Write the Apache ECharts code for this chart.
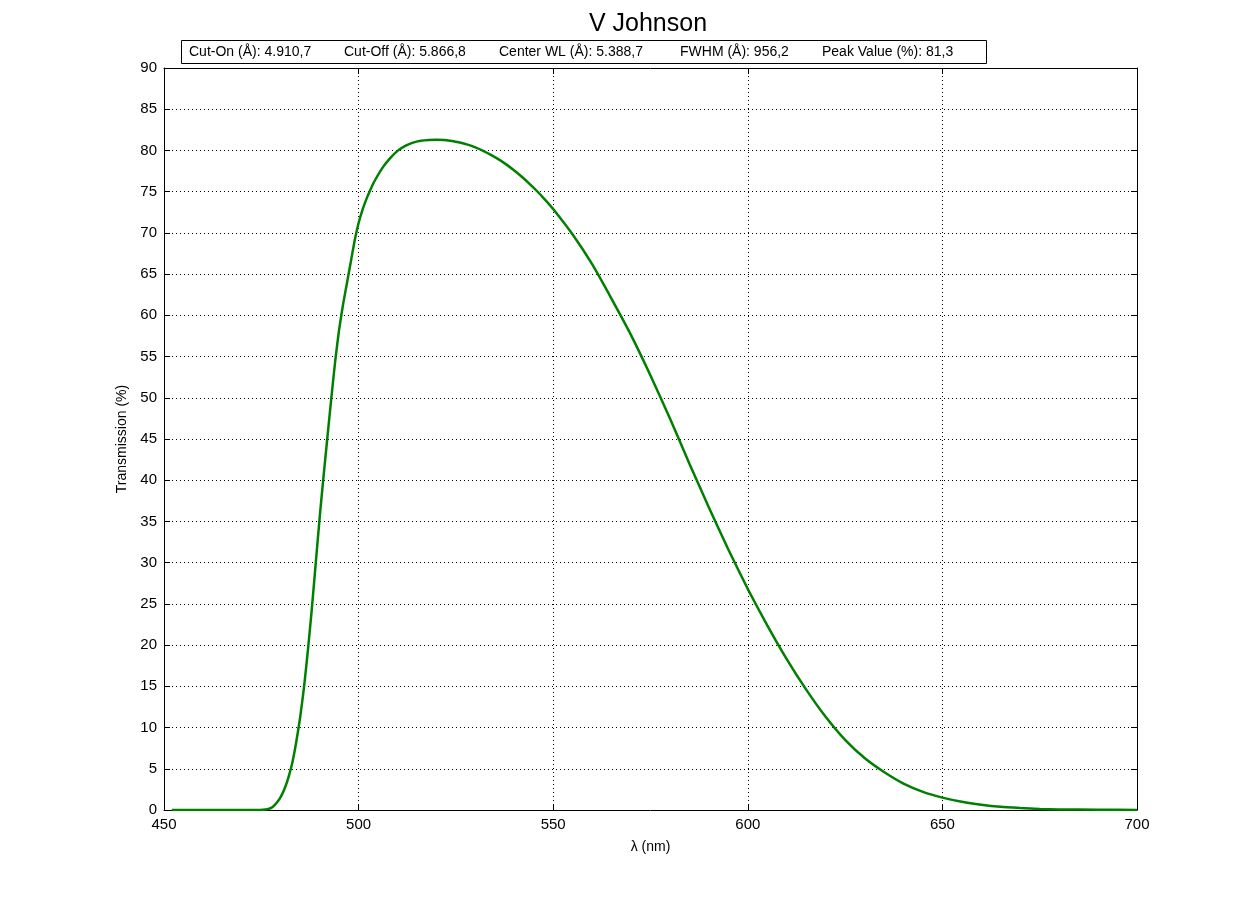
<!DOCTYPE html>
<html>
<head>
<meta charset="utf-8">
<script src="https://cdn.jsdelivr.net/npm/echarts@6/dist/echarts.min.js"></script>
<style>html,body{margin:0;padding:0;background:#fff}#c{width:1258px;height:911px}</style>
</head>
<body>
<div id="c"></div>
<script>
const wavelengths = [452,460,470,475,476,477,478,479,480,481,482,483,484,485,486,487,488,489,490,491,492,493,494,495,496,497,498,499,500,501,502,503,504,506,508,510,512,514,516,518,520,522,524,526,528,530,532,534,536,538,540,542,544,546,548,550,555,560,565,570,575,580,585,590,595,600,605,610,615,620,625,630,635,640,645,650,655,660,665,670,675,680,690,700];
const transmission = [0,0,0,0.02,0.05,0.15,0.4,0.9,1.6,2.6,4.0,5.8,8.3,11.3,15.0,19.5,24.5,30.0,35.5,40.5,45.3,50.0,54.5,58.3,61.3,63.9,66.5,69.1,71.2,72.8,74.1,75.2,76.2,77.8,79.0,79.95,80.55,80.95,81.17,81.28,81.3,81.26,81.15,80.96,80.7,80.37,79.96,79.47,78.91,78.28,77.57,76.78,75.92,74.99,73.98,72.9,69.8,66.2,62.0,57.6,52.7,47.5,42.0,36.7,31.6,26.8,22.4,18.3,14.6,11.3,8.5,6.3,4.6,3.2,2.2,1.5,1.0,0.65,0.4,0.25,0.12,0.07,0.03,0.01];
const infoLabels = ["Cut-On (Å): 4.910,7","Cut-Off (Å): 5.866,8","Center WL (Å): 5.388,7","FWHM (Å): 956,2","Peak Value (%): 81,3"];
const infoX = [189,344,499,680,822];

const chart = echarts.init(document.getElementById('c'));
const font = 'Liberation Sans, Arial, sans-serif';
const gridLine = {show:true,lineStyle:{color:'#000',type:[1,3],width:1}};
const axisLine = {show:true,onZero:false,lineStyle:{color:'#000',width:1}};
const tick = {show:true,inside:true,length:6,lineStyle:{color:'#000'}};
chart.setOption({
  animation:false,
  backgroundColor:'#fff',
  title:{text:'V Johnson',left:643,textAlign:'center',top:7,textStyle:{fontFamily:font,fontSize:25,fontWeight:'normal',color:'#000'}},
  grid:{left:164,right:121,top:68,bottom:101,show:false},
  xAxis:[
    {type:'value',min:450,max:700,interval:50,name:'λ (nm)',nameLocation:'middle',nameGap:30,
     nameTextStyle:{fontFamily:font,fontSize:14,color:'#000'},
     axisLine:axisLine,axisTick:tick,axisLabel:{fontFamily:font,fontSize:15,color:'#000',margin:7},splitLine:gridLine},
    {type:'value',position:'top',min:450,max:700,interval:50,axisLine:axisLine,axisTick:tick,axisLabel:{show:false},splitLine:{show:false}}
  ],
  yAxis:[
    {type:'value',min:0,max:90,interval:5,name:'Transmission (%)',nameLocation:'middle',nameGap:32,
     nameTextStyle:{fontFamily:font,fontSize:14,color:'#000'},
     axisLine:axisLine,axisTick:tick,axisLabel:{fontFamily:font,fontSize:15,color:'#000',margin:7},splitLine:gridLine},
    {type:'value',position:'right',min:0,max:90,interval:5,axisLine:axisLine,axisTick:tick,axisLabel:{show:false},splitLine:{show:false}}
  ],
  series:[{
    type:'line',
    data:wavelengths.map((w,i)=>[w,transmission[i]]),
    smooth:0.15,
    showSymbol:false,
    lineStyle:{color:'#008000',width:2.5},
    z:5
  }],
  graphic:[
    {type:'rect',shape:{x:181.5,y:40.5,width:805,height:23},style:{fill:'#fff',stroke:'#000',lineWidth:1},z:10}
  ].concat(infoLabels.map((t,i)=>({type:'text',x:infoX[i],y:52,z:11,
    style:{text:t,font:'14px '+font,fill:'#000',verticalAlign:'middle',align:'left'}})))
});
</script>
</body>
</html>
